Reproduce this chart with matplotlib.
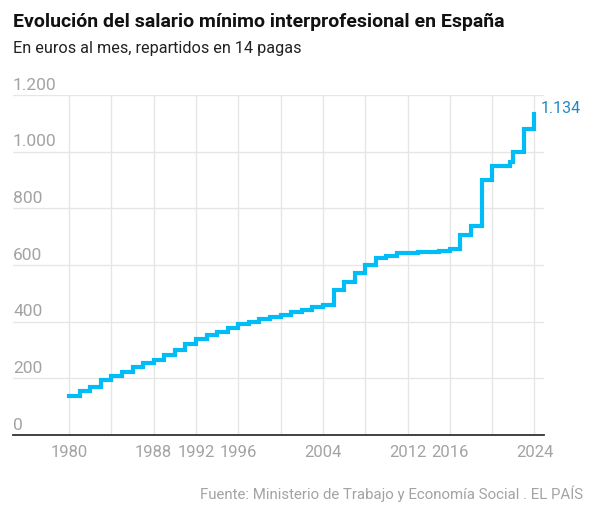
import matplotlib

matplotlib.use('Agg')

import matplotlib.pyplot as plt
import matplotlib.transforms as mtransforms

plt.rcParams.update({
    'font.family': ['Roboto', 'DejaVu Sans'],
    'font.size': 11,
})

# SMI en euros al mes (14 pagas), valor vigente desde el inicio de cada periodo
years = [1980, 1981, 1982, 1983, 1984, 1985, 1986, 1987, 1988, 1989,
         1990, 1991, 1992, 1993, 1994, 1995, 1996, 1997, 1998, 1999,
         2000, 2001, 2002, 2003, 2004, 2005, 2006, 2007, 2008, 2009,
         2010, 2011, 2012, 2013, 2014, 2015, 2016, 2017, 2018, 2019,
         2020, 2021.7, 2022, 2023, 2024]
salary = [136.0, 154.0, 170.9, 193.3, 208.8, 223.4, 241.3, 253.3, 264.7, 280.6,
          300.6, 320.0, 338.3, 351.8, 364.0, 376.8, 390.2, 400.5, 408.9, 416.3,
          424.8, 433.5, 442.2, 451.2, 460.5, 513.0, 540.9, 570.6, 600.0, 624.0,
          633.3, 641.4, 641.4, 645.3, 645.3, 648.6, 655.2, 707.6, 735.9, 900.0,
          950.0, 965.0, 1000.0, 1080.0, 1134.0]

grid_years = list(range(1980, 2025, 4))
label_years = [1980, 1988, 1992, 1996, 2004, 2012, 2016, 2024]
y_ticks = [0, 200, 400, 600, 800, 1000, 1200]
y_labels = ['0', '200', '400', '600', '800', '1.000', '1.200']

line_color = '#00bcf7'
gray = '#a3a3a3'

fig = plt.figure(figsize=(5.98, 5.07), dpi=100)
ax = fig.add_axes([13 / 598, 1 - 435 / 507, (544 - 13) / 598, (435 - 95) / 507])

ax.step(years, salary, where='post', color=line_color, linewidth=3.0,
        solid_joinstyle='miter', zorder=3)

ax.set_xlim(1974.7, 2024.9)
ax.set_ylim(0, 1200)

ax.set_xticks(grid_years)
ax.set_xticklabels([str(y) if y in label_years else '' for y in grid_years])
ax.set_yticks(y_ticks)
ax.set_yticklabels([])
ax.tick_params(axis='both', length=0)
ax.tick_params(axis='x', colors=gray, labelsize=12, pad=7)

ax.grid(True, color='#e6e6e6', linewidth=1.0)
ax.set_axisbelow(True)
for side in ['top', 'right', 'left']:
    ax.spines[side].set_visible(False)
ax.spines['bottom'].set_color('#333333')
ax.spines['bottom'].set_linewidth(1.3)

trans = mtransforms.blended_transform_factory(ax.transAxes, ax.transData)
for val, lab in zip(y_ticks, y_labels):
    ax.text(0, val + 8, lab, transform=trans, ha='left', va='bottom',
            color=gray, fontsize=12.5)

ax.text(years[-1] + 0.6, salary[-1] + 20, '1.134', color='#1f88c4',
        fontsize=11.5, ha='left', va='center')

fig.text(13 / 598, 1 - 22 / 507, 'Evolución del salario mínimo interprofesional en España',
         fontsize=14, fontweight='bold', color='#111111', ha='left', va='center')
fig.text(13 / 598, 1 - 48 / 507, 'En euros al mes, repartidos en 14 pagas',
         fontsize=11.7, color='#222222', ha='left', va='center')
fig.text(583 / 598, 1 - 494 / 507,
         'Fuente: Ministerio de Trabajo y Economía Social . EL PAÍS',
         fontsize=10.8, color=gray, ha='right', va='center')

fig.savefig('out.png', dpi=100)
